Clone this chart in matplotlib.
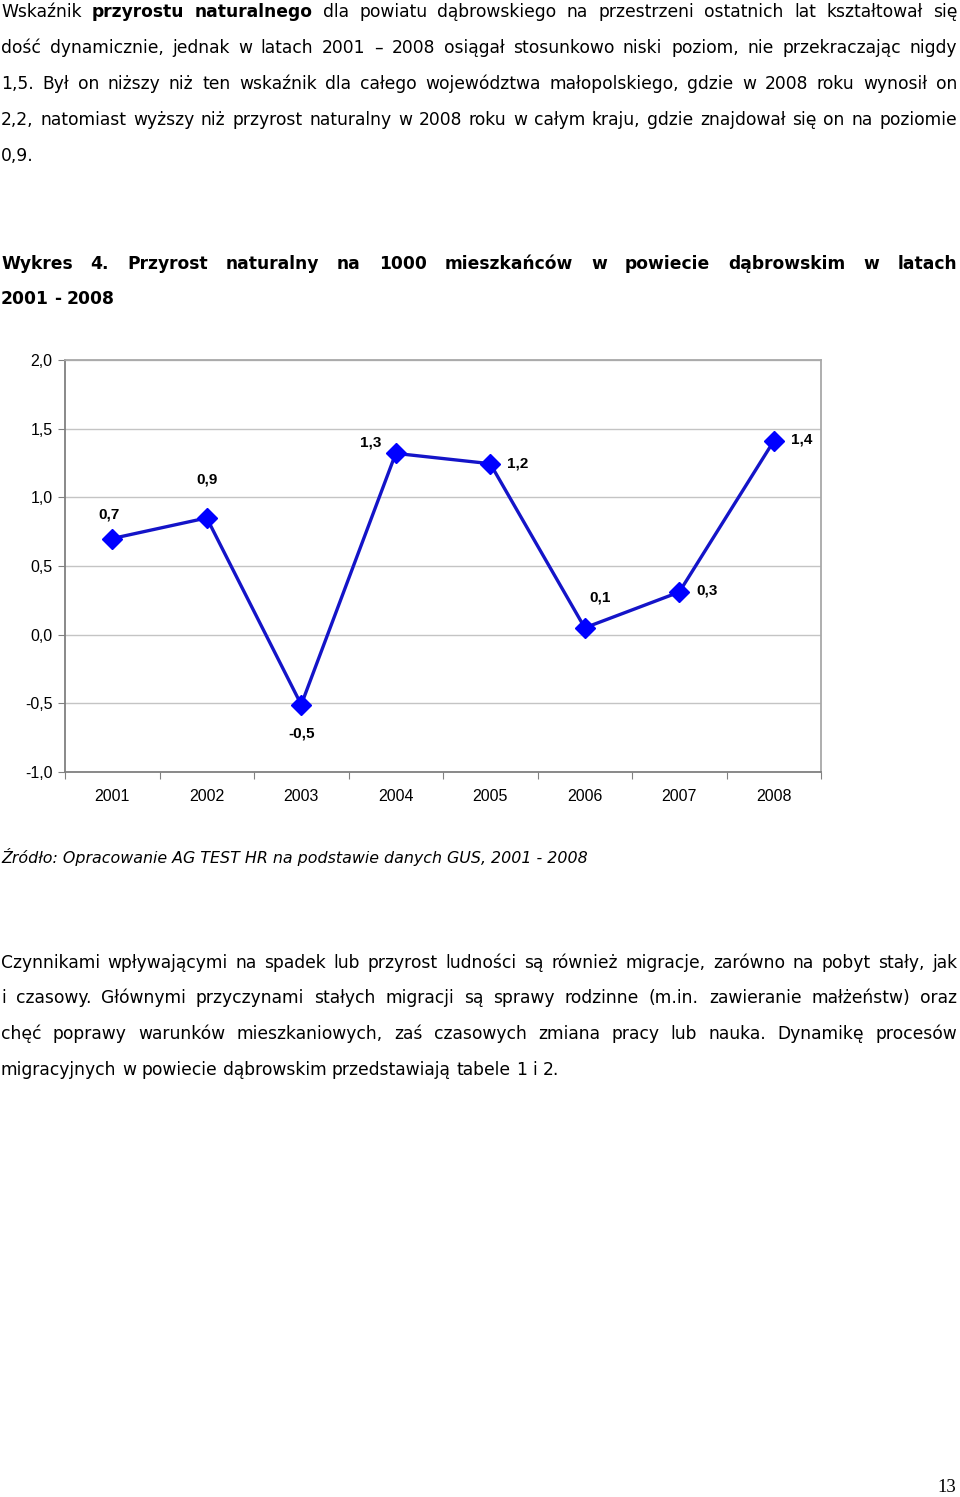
import matplotlib
matplotlib.use("Agg")
import matplotlib.pyplot as plt
from matplotlib.ticker import FixedLocator, FuncFormatter

# dane wykresu
years = ["2001", "2002", "2003", "2004", "2005", "2006", "2007", "2008"]
values = [0.70, 0.85, -0.51, 1.32, 1.245, 0.05, 0.31, 1.41]
value_labels = ["0,7", "0,9", "-0,5", "1,3", "1,2", "0,1", "0,3", "1,4"]
# przesunięcia etykiet (w punktach)
label_offsets = [(-2, 17), (0, 28), (0, -21), (-18, 8), (20, 0), (11, 22), (20, 1), (20, 1)]

para1 = [
    ([("Wskaźnik", 0), ("przyrostu", 1), ("naturalnego", 1), ("dla", 0), ("powiatu", 0),
      ("dąbrowskiego", 0), ("na", 0), ("przestrzeni", 0), ("ostatnich", 0), ("lat", 0),
      ("kształtował", 0), ("się", 0)], True),
    ("dość dynamicznie, jednak w latach 2001 – 2008 osiągał stosunkowo niski poziom, nie przekraczając nigdy", True),
    ("1,5. Był on niższy niż ten wskaźnik dla całego województwa małopolskiego, gdzie w 2008 roku wynosił on", True),
    ("2,2, natomiast wyższy niż przyrost naturalny w 2008 roku w całym kraju, gdzie znajdował się on na poziomie", True),
    ("0,9.", False),
]
para1_y = [12, 48, 84, 120, 156]

title_lines = [
    ("Wykres 4. Przyrost naturalny na 1000 mieszkańców w powiecie dąbrowskim w latach", True),
    ("2001 - 2008", False),
]
title_y = [264, 299]

para2 = [
    ("Czynnikami wpływającymi na spadek lub przyrost ludności są również migracje, zarówno na pobyt stały, jak", True),
    ("i czasowy. Głównymi przyczynami stałych migracji są sprawy rodzinne (m.in. zawieranie małżeństw) oraz", True),
    ("chęć poprawy warunków mieszkaniowych, zaś czasowych zmiana pracy lub nauka. Dynamikę procesów", True),
    ("migracyjnych w powiecie dąbrowskim przedstawiają tabele 1 i 2.", False),
]
para2_y = [963, 998, 1034, 1070]

source = "Źródło: Opracowanie AG TEST HR na podstawie danych GUS, 2001 - 2008"

W, H = 960, 1497
fig = plt.figure(figsize=(W / 100, H / 100), dpi=100)
renderer = fig.canvas.get_renderer()


def text_width(s, size, weight="normal"):
    t = fig.text(0, 0, s, fontsize=size, family="DejaVu Sans", fontweight=weight)
    w = t.get_window_extent(renderer).width
    t.remove()
    return w


def draw_line(y_px, words, justify, size=12.3, bold_all=False, x0=1, x1=957):
    if isinstance(words, str):
        words = [(w, 1 if bold_all else 0) for w in words.split()]
    weight = lambda b: "bold" if b else "normal"
    sw = text_width("a a", size) - text_width("aa", size)
    total = sum(text_width(w, size, weight(b)) for w, b in words)
    if justify and total + sw * 0.5 * (len(words) - 1) > x1 - x0:
        size = size * (x1 - x0) / (total + sw * 0.5 * (len(words) - 1))
        sw = text_width("a a", size) - text_width("aa", size)
    widths = [text_width(w, size, weight(b)) for w, b in words]
    total = sum(widths)
    gap = (x1 - x0 - total) / (len(words) - 1) if justify and len(words) > 1 else sw
    x = x0
    base = 1 - (y_px + 5) / H
    for (w, b), wd in zip(words, widths):
        fig.text(x / W, base, w, fontsize=size, family="DejaVu Sans",
                 fontweight=weight(b), va="baseline", ha="left", color="black")
        x += wd + gap


for (ln, j), y in zip(para1, para1_y):
    draw_line(y, ln, j)
for (ln, j), y in zip(title_lines, title_y):
    draw_line(y, ln, j, bold_all=True)
for (ln, j), y in zip(para2, para2_y):
    draw_line(y, ln, j)

fig.text(1 / W, 1 - 857 / H, source, fontsize=11.4, family="DejaVu Sans",
         style="italic", va="center", ha="left")
fig.text(956 / W, 1 - 1487 / H, "13", fontsize=13.5, family="Liberation Serif",
         va="center", ha="right")

# wykres
ax = fig.add_axes([65 / W, 1 - 772 / H, (821 - 65) / W, (772 - 360) / H])
x = list(range(len(years)))
ax.plot(x, values, color="#1414c8", lw=2.4, zorder=3)
ax.plot(x, values, ls="none", marker="D", ms=10, color="#0000ff", zorder=4)

for xi, v, lab, off in zip(x, values, value_labels, label_offsets):
    ax.annotate(lab, (xi, v), xytext=off, textcoords="offset points",
                ha="center", va="center", fontsize=11, fontweight="bold",
                family="Liberation Sans")

ax.set_xlim(-0.5, len(years) - 0.5)
ax.set_ylim(-1.0, 2.0)
ax.yaxis.set_major_locator(FixedLocator([-1.0, -0.5, 0.0, 0.5, 1.0, 1.5, 2.0]))
ax.yaxis.set_major_formatter(FuncFormatter(lambda v, p: f"{v:.1f}".replace(".", ",")))
ax.xaxis.set_major_locator(FixedLocator([i - 0.5 for i in range(len(years) + 1)]))
ax.xaxis.set_major_formatter(FuncFormatter(lambda v, p: ""))
ax.set_xticks(x, minor=True)
ax.set_xticklabels(years, minor=True)
ax.tick_params(axis="x", which="minor", length=0, pad=12, labelsize=11.5)
ax.tick_params(axis="x", which="major", length=5, color="#808080", direction="out")
ax.tick_params(axis="y", length=5, color="#808080", pad=4, labelsize=11.5)
for lbl in ax.get_xticklabels(minor=True) + ax.get_yticklabels():
    lbl.set_family("Liberation Sans")

ax.grid(axis="y", color="#c4c4c4", lw=1)
ax.set_axisbelow(True)
ax.spines["left"].set_color("#808080")
ax.spines["bottom"].set_color("#808080")
ax.spines["top"].set_color("#a8a8a8")
ax.spines["right"].set_color("#a8a8a8")
for s in ax.spines.values():
    s.set_linewidth(1.3)

fig.savefig("out.png", dpi=100)
